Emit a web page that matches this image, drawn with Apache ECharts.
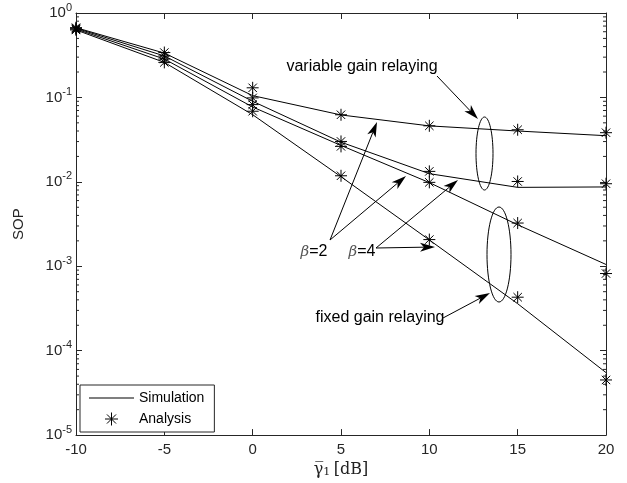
<!DOCTYPE html>
<html>
<head>
<meta charset="utf-8">
<script src="https://cdn.jsdelivr.net/npm/echarts@6/dist/echarts.min.js"></script>
<style>
  html, body { margin: 0; padding: 0; background: #fff; }
  #chart { width: 627px; height: 483px; }
</style>
</head>
<body>
<div id="chart"></div>
<script>
// SNR points (dB)
const snr = [-10, -5, 0, 5, 10, 15, 20];

// simulation curves (lines)
const simVarB2 = [0.67, 0.335, 0.105, 0.062, 0.046, 0.040, 0.0352];
const simVarB4 = [0.66, 0.31, 0.09, 0.0295, 0.0125, 0.0086, 0.0087];
const simFixB2 = [0.645, 0.285, 0.077, 0.027, 0.0098, 0.0031, 0.00105];
const simFixB4 = [0.63, 0.26, 0.0624, 0.0115, 0.00205, 0.00036, 0.000055];

// analysis points (stars)
const anaVarB2 = [0.67, 0.34, 0.13, 0.0623, 0.0461, 0.0414, 0.0382];
const anaVarB4 = [0.66, 0.31, 0.0987, 0.0301, 0.0133, 0.0101, 0.0095];
const anaFixB2 = [0.645, 0.285, 0.0822, 0.0263, 0.00986, 0.00325, 0.00082];
const anaFixB4 = [0.63, 0.26, 0.0686, 0.0118, 0.00207, 0.00043, 0.000045];

// minor ticks of the log axis (2..9 per decade)
const minorVals = [];
for (let e = -5; e < 0; e++) {
  for (let k = 2; k <= 9; k++) minorVals.push([-10, k * Math.pow(10, e)]);
}

const axisCol = '#262626';
const sans = '"Liberation Sans", Arial, sans-serif';
const serif = '"DejaVu Serif", "Liberation Serif", serif';
const star = 'path://M0,5L10,5M5,0L5,10M1.5,1.5L8.5,8.5M1.5,8.5L8.5,1.5';
const dash = 'path://M0,0L40,0L40,1L0,1Z';

const pair = arr => snr.map((x, i) => [x, arr[i]]);

function lineSeries(arr) {
  return {
    name: 'Simulation', type: 'line', data: pair(arr),
    symbol: 'none', silent: true,
    lineStyle: { color: '#000', width: 1 },
    itemStyle: { color: '#000' }
  };
}
function starSeries(arr) {
  return {
    name: 'Analysis', type: 'scatter', data: pair(arr),
    symbol: star, symbolSize: 12, silent: true,
    itemStyle: { color: 'transparent', borderColor: '#000', borderWidth: 1, opacity: 1 }
  };
}

// annotation arrows (pixel space)
function arrow(x1, y1, x2, y2) {
  const L = 15, W = 4.5, B = 4;
  const d = Math.hypot(x2 - x1, y2 - y1);
  const ux = (x2 - x1) / d, uy = (y2 - y1) / d;
  const px = -uy, py = ux;
  const bx = x2 - ux * L, by = y2 - uy * L;
  const nx = x2 - ux * (L - B), ny = y2 - uy * (L - B);
  return [
    { type: 'line', shape: { x1: x1, y1: y1, x2: nx, y2: ny }, style: { stroke: '#000', lineWidth: 1 } },
    { type: 'polygon', shape: { points: [[x2, y2], [bx + px * W, by + py * W], [nx, ny], [bx - px * W, by - py * W]] }, style: { fill: '#000' } }
  ];
}

const annoFont = '16px ' + sans;
const betaRich = { i: { fontStyle: 'italic', fontFamily: serif, fontSize: 15, fill: '#555' } };

const graphics = [
  { type: 'ellipse', shape: { cx: 484.5, cy: 153.5, rx: 8.5, ry: 36.5 }, style: { fill: 'none', stroke: '#000', lineWidth: 1 } },
  { type: 'ellipse', shape: { cx: 499, cy: 254.5, rx: 12, ry: 47.5 }, style: { fill: 'none', stroke: '#000', lineWidth: 1 } },
  { type: 'text', style: { text: 'variable gain relaying', x: 362, y: 67, font: annoFont, fill: '#000', textAlign: 'center', textVerticalAlign: 'middle' } },
  { type: 'text', style: { text: 'fixed gain relaying', x: 380, y: 318, font: annoFont, fill: '#000', textAlign: 'center', textVerticalAlign: 'middle' } },
  { type: 'text', style: { text: '{i|β}=2', x: 314, y: 252, font: annoFont, fill: '#000', rich: betaRich, textAlign: 'center', textVerticalAlign: 'middle' } },
  { type: 'text', style: { text: '{i|β}=4', x: 362, y: 252, font: annoFont, fill: '#000', rich: betaRich, textAlign: 'center', textVerticalAlign: 'middle' } }
].concat(
  arrow(437, 76, 478, 119),
  arrow(443, 318, 490, 293),
  arrow(330, 240, 377, 122),
  arrow(330, 240, 406, 176),
  arrow(376, 248, 458, 180),
  arrow(376, 248, 435, 247)
);

const chart = echarts.init(document.getElementById('chart'));
chart.setOption({
  backgroundColor: '#fff',
  animation: false,
  grid: { left: 76, right: 21, top: 13, bottom: 47 },
  legend: {
    data: [
      { name: 'Simulation', icon: dash, itemStyle: { color: '#000', borderWidth: 0 } },
      { name: 'Analysis', icon: star, itemStyle: { color: 'transparent', borderColor: '#000', borderWidth: 1 } }
    ],
    orient: 'vertical', left: 80, top: 385,
    itemWidth: 45, itemHeight: 13, itemGap: 7,
    padding: [6, 10, 6, 9],
    borderColor: axisCol, borderWidth: 1, borderRadius: 0,
    backgroundColor: '#fff',
    textStyle: { fontFamily: sans, fontSize: 14, color: '#000' },
    selectedMode: false
  },
  xAxis: [{
    type: 'value', min: -10, max: 20, interval: 5,
    name: '{g|γ\u0305}{s|1} {g|[dB]}', nameLocation: 'middle', nameGap: 24,
    nameTextStyle: {
      rich: {
        g: { fontFamily: serif, fontSize: 16, color: '#222' },
        s: { fontFamily: serif, fontSize: 11, color: '#222', verticalAlign: 'bottom', lineHeight: 12 }
      }
    },
    axisLine: { onZero: false, lineStyle: { color: axisCol } },
    axisTick: { inside: true, length: 6, lineStyle: { color: axisCol } },
    axisLabel: { fontFamily: sans, fontSize: 15, color: axisCol, margin: 7 },
    splitLine: { show: false }
  }, {
    type: 'value', min: -10, max: 20, interval: 5, position: 'top',
    axisLine: { onZero: false, lineStyle: { color: axisCol } },
    axisTick: { inside: true, length: 6, lineStyle: { color: axisCol } },
    axisLabel: { show: false },
    splitLine: { show: false }
  }],
  yAxis: [{
    type: 'log', logBase: 10, min: 1e-5, max: 1,
    name: 'SOP', nameLocation: 'middle', nameGap: 50, nameRotate: 90,
    nameTextStyle: { fontFamily: sans, fontSize: 15, color: axisCol },
    axisLine: { show: true, onZero: false, lineStyle: { color: axisCol } },
    axisTick: { show: true, inside: true, length: 6, lineStyle: { color: axisCol } },
    axisLabel: {
      margin: 4,
      formatter: v => '{b|10}{s|' + Math.round(Math.log10(v)) + '}',
      rich: {
        b: { fontFamily: sans, fontSize: 15, color: axisCol, lineHeight: 22, verticalAlign: 'middle' },
        s: { fontFamily: sans, fontSize: 11, color: axisCol, lineHeight: 11, verticalAlign: 'top' }
      }
    },
    splitLine: { show: false }
  }, {
    type: 'log', logBase: 10, min: 1e-5, max: 1, position: 'right',
    axisLine: { show: true, onZero: false, lineStyle: { color: axisCol } },
    axisTick: { show: true, inside: true, length: 6, lineStyle: { color: axisCol } },
    axisLabel: { show: false },
    splitLine: { show: false }
  }],
  series: [
    {
      type: 'custom', silent: true, clip: false, data: minorVals,
      encode: { x: 0, y: 1 },
      renderItem: (params, api) => {
        const v = api.value(1);
        const a = api.coord([-10, v]);
        const b = api.coord([20, v]);
        return {
          type: 'group',
          children: [
            { type: 'line', shape: { x1: a[0], y1: a[1], x2: a[0] + 3, y2: a[1] }, style: { stroke: axisCol, lineWidth: 1 } },
            { type: 'line', shape: { x1: b[0] - 3, y1: b[1], x2: b[0], y2: b[1] }, style: { stroke: axisCol, lineWidth: 1 } }
          ]
        };
      }
    },
    lineSeries(simVarB2), lineSeries(simVarB4), lineSeries(simFixB2), lineSeries(simFixB4),
    starSeries(anaVarB2), starSeries(anaVarB4), starSeries(anaFixB2), starSeries(anaFixB4)
  ],
  graphic: graphics
});
</script>
</body>
</html>
